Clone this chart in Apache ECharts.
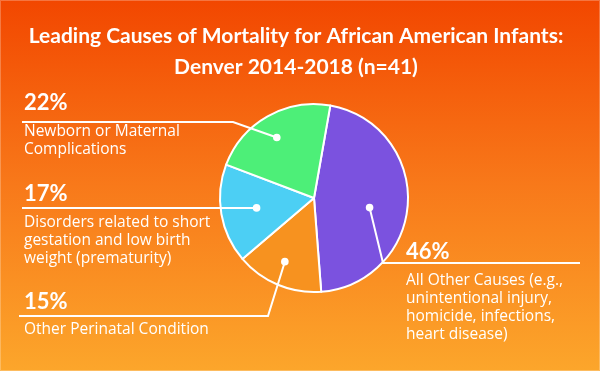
<!DOCTYPE html>
<html><head><meta charset="utf-8">
<script src="https://cdn.jsdelivr.net/npm/echarts@6/dist/echarts.min.js"></script>
<style>html,body{margin:0;padding:0;overflow:hidden}#c{width:600px;height:371px;}</style>
</head><body><div id="c"></div>
<script>
// ---- data ----
const categories = [
  'All Other Causes (e.g.,\nunintentional injury,\nhomicide, infections,\nheart disease)',
  'Other Perinatal Condition',
  'Disorders related to short\ngestation and low birth\nweight (prematurity)',
  'Newborn or Maternal\nComplications'
];
const percents = [46, 15, 17, 22];
const titleLines = ['Leading Causes of Mortality for African American Infants:', 'Denver 2014-2018 (n=41)'];

// ---- styles / layout ----
const colors = ['#7b52df', '#f7921f', '#4ccff4', '#4def78'];
const CX = 314, CY = 198, R = 94;
const FONT = 'Lato';
const DESC_FONT = '"Open Sans"';
const annot = [
  {f: 0.60, nudge: 7, path: [[383, 263], [580, 263]], x: 406, pctY: 252, txtY: 280.5},
  {f: 0.745, nudge: 2, path: [[268, 316], [19, 316]], x: 24, pctY: 302, txtY: 329.5},
  {f: 0.62, nudge: 0, path: [[22, null]], x: 24, pctY: 194, txtY: 222.5},
  {f: 0.755, nudge: -2, path: [[233, 122], [22, 122]], x: 24, pctY: 103, txtY: 132}
];
const LH = 18;

const chart = echarts.init(document.getElementById('c'), null, {renderer: 'canvas'});
chart.setOption({
  animation: false,
  backgroundColor: new echarts.graphic.LinearGradient(0, 0, 0, 1, [
    {offset: 0, color: '#f24700'},
    {offset: 0.5, color: '#f8791a'},
    {offset: 1, color: '#fca62b'}
  ]),
  series: [{
    type: 'pie',
    center: [CX, CY],
    radius: [0, R],
    startAngle: 80,
    clockwise: true,
    label: {show: false},
    labelLine: {show: false},
    itemStyle: {borderColor: '#ffffff', borderWidth: 2},
    emphasis: {disabled: true},
    data: percents.map((v, i) => ({name: categories[i], value: v, itemStyle: {color: colors[i]}}))
  }]
});

const data = chart.getModel().getSeriesByIndex(0).getData();
const elements = [];
titleLines.forEach((t, i) => {
  elements.push({type: 'text', x: 296, y: 36 + i * 31, z: 20,
    style: {text: t, fill: '#fff', font: 'bold 21px ' + FONT, textAlign: 'center', textVerticalAlign: 'middle'}});
});
percents.forEach((v, i) => {
  const lay = data.getItemLayout(i);
  const a = annot[i];
  const mid = (lay.startAngle + lay.endAngle) / 2 + a.nudge * Math.PI / 180;
  const dx = lay.cx + lay.r * a.f * Math.cos(mid);
  const dy = lay.cy + lay.r * a.f * Math.sin(mid);
  const pts = [[dx, dy]].concat(a.path.map(p => [p[0], p[1] == null ? dy : p[1]]));
  elements.push({type: 'polyline', z: 20, shape: {points: pts}, style: {stroke: '#fff', lineWidth: 2, fill: null}});
  elements.push({type: 'circle', z: 21, shape: {cx: dx, cy: dy, r: 3.8}, style: {fill: '#fff'}});
  elements.push({type: 'text', x: a.x, y: a.pctY, z: 20,
    style: {text: v + '%', fill: '#fff', font: 'bold 22px ' + FONT, textVerticalAlign: 'middle'}});
  elements.push({type: 'text', x: a.x, y: a.txtY - LH / 2, z: 20,
    style: {text: categories[i], fill: '#fff', font: '15.5px ' + DESC_FONT, lineHeight: LH, textVerticalAlign: 'top'}});
});
elements.push({type: 'rect', z: 30, silent: true, shape: {x: 0.5, y: 0.5, width: 599, height: 370},
  style: {fill: null, stroke: 'rgba(255,255,255,0.25)', lineWidth: 1}});
chart.setOption({graphic: {elements: elements}});
</script>
</body></html>
